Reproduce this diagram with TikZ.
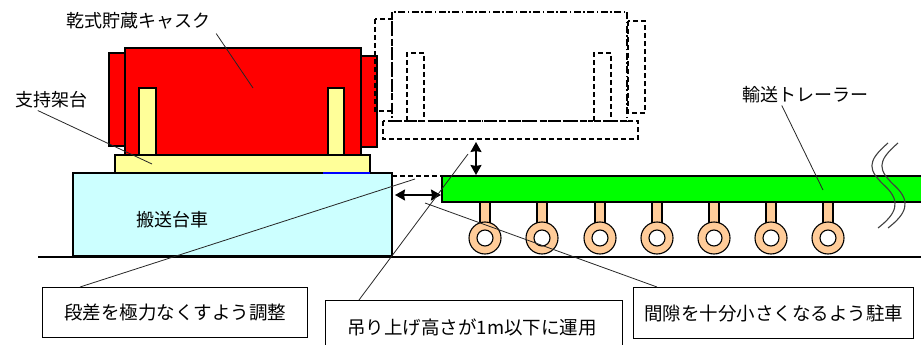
\documentclass[tikz,border=0pt]{standalone}
\usepackage{fontspec}
\setmainfont{Noto Sans CJK JP}
\usetikzlibrary{arrows.meta}
\definecolor{caskred}{HTML}{FF0000}
\definecolor{standyellow}{HTML}{FFFF99}
\definecolor{cartcyan}{HTML}{CCFFFF}
\definecolor{trailergreen}{HTML}{00FF00}
\definecolor{wheelpeach}{HTML}{FFCC99}
\begin{document}
\begin{tikzpicture}[x=1pt,y=-1pt,
  solidpart/.style={draw=black,line width=1.1pt},
  ghost/.style={draw=black,line width=1.1pt,dash pattern=on 5pt off 3pt},
  ghostbody/.style={draw=black,line width=1.1pt,dash pattern=on 7pt off 2.5pt on 1.5pt off 2.5pt},
  leader/.style={draw=black!85,line width=0.8pt},
  gap/.style={line width=1.6pt,{Stealth[length=10pt,width=11pt,inset=1pt]}-{Stealth[length=10pt,width=11pt,inset=1pt]}},
  lbl/.style={inner sep=0pt,font=\fontsize{18}{20}\selectfont},
  callout/.style={draw=black,line width=1.1pt,fill=white,inner sep=0pt,anchor=north west,
    font=\fontsize{18.5}{20}\selectfont},
  breakline/.style={draw=black!75,line width=1.1pt}]
\useasboundingbox (0,0) rectangle (921,345);

% ground
\draw[line width=1.1pt] (38,257) -- (921,257);

% transfer cart
\draw[solidpart,fill=cartcyan] (73,173) rectangle (392,256);
\node[lbl] (cart) at (172,220) {搬送台車};

% cask on its stand
\draw[solidpart,fill=caskred] (109,53) rectangle (125,146);
\draw[solidpart,fill=caskred] (361,56) rectangle (377,147);
\draw[solidpart,fill=caskred] (125,48) rectangle (361,155);
\draw[solidpart,fill=standyellow] (139,88) rectangle (156,155);
\draw[solidpart,fill=standyellow] (328,88) rectangle (344,155);
\draw[solidpart,fill=standyellow] (115,155) rectangle (370,173);
\draw[blue,line width=1.1pt] (323,173) -- (370,173);

% lifted cask (outline only)
\draw[ghost] (383,121) rectangle (638,139);
\draw[ghost] (375,19) rectangle (392,111);
\draw[ghost] (628,21) rectangle (645,113);
\draw[ghostbody] (392,12) rectangle (627,121);
\draw[ghost] (407,121) -- (407,53) -- (424,53) -- (424,121);
\draw[ghost] (594,121) -- (594,53) -- (611,53) -- (611,121);

% cart deck level carried over to the trailer
\draw[ghost] (392,176) -- (442,176);

% transport trailer
\fill[trailergreen] (442,176) rectangle (925,202);
\draw[solidpart] (925,176) -- (442,176) -- (442,202) -- (925,202);
\foreach \wx in {485,542,600,657,714,771,828} {
  \draw[solidpart,fill=wheelpeach] (\wx-5,202) rectangle (\wx+5,223);
  \draw[solidpart,fill=wheelpeach] (\wx,238) circle (16);
  \draw[solidpart,fill=white] (\wx,238) circle (8);
}

% break marks
\draw[breakline] (888,143) .. controls (866,162) and (868,170) .. (885,186)
  .. controls (902,202) and (896,214) .. (878,228);
\draw[breakline] (898,143) .. controls (876,162) and (878,170) .. (895,186)
  .. controls (912,202) and (906,214) .. (888,228);

% clearance arrows
\draw[gap] (476,142) -- (476,175);
\draw[gap] (395,195) -- (441,195);

% labels and leaders
\node[lbl] (caskname) at (138,21) {乾式貯蔵キャスク};
\coordinate (caskpt) at (253,88);
\draw[leader] ([xshift=6pt,yshift=-4pt]caskname.south east) -- (caskpt);

\node[lbl] (standname) at (52,100) {支持架台};
\coordinate (standpt) at (152,164);
\draw[leader] ([xshift=22pt,yshift=-2pt]standname.south west) -- (standpt);

\node[lbl] (trailername) at (805,95) {輸送トレーラー};
\coordinate (trailerpt) at (823,190);
\draw[leader] ([xshift=40pt,yshift=-2pt]trailername.south west) -- (trailerpt);

\node[callout,minimum width=265pt,minimum height=50pt] (stepbox) at (42,287) {段差を極力なくすよう調整};
\coordinate (steppt) at (415,179);
\draw[leader] ([xshift=38pt]stepbox.north west) -- (steppt);

\node[callout,minimum width=297pt,minimum height=55pt,anchor=north west] (liftbox) at (325,300) {};
\node[lbl,font=\fontsize{18.5}{20}\selectfont] (lifttext) at (472,327) {吊り上げ高さが1m以下に運用};
\coordinate (liftpt) at (468,154);
\draw[leader] ([xshift=34pt]liftbox.north west) -- (liftpt);

\node[callout,minimum width=280pt,minimum height=51pt] (parkbox) at (633,287) {間隙を十分小さくなるよう駐車};
\coordinate (parkpt) at (425,203);
\draw[leader] ([xshift=24pt]parkbox.north west) -- (parkpt);
\end{tikzpicture}
\end{document}
